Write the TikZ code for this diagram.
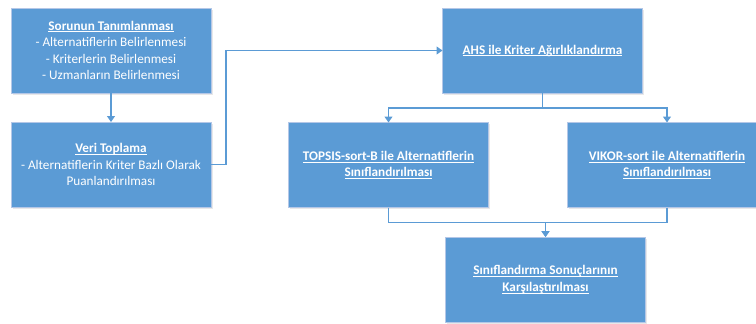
\documentclass[tikz,border=0pt]{standalone}
\usepackage{fontspec}
\setmainfont{Carlito}
\usetikzlibrary{arrows.meta,shadows}
\definecolor{boxblue}{HTML}{5B9BD5}
\definecolor{boxedge}{HTML}{B4C7E7}
\definecolor{linkblue}{HTML}{5B9BD5}
\newcommand{\myul}[1]{\setbox0\hbox{#1}\leavevmode\rlap{\vrule width\wd0 height -1.3pt depth 2.0pt}\box0}
\begin{document}
\begin{tikzpicture}[x=1pt,y=-1pt,
 box/.style={draw=boxedge, line width=0.8pt, fill=boxblue, minimum width=200pt, minimum height=85pt,
   inner sep=0pt, outer sep=0pt, text=white, align=center, font=\fontsize{13.2}{16.6}\selectfont,
   drop shadow={opacity=0.18, shadow xshift=1.5pt, shadow yshift=-1.5pt}},
 link/.style={draw=linkblue, line width=1.2pt, -{Triangle[width=8pt,length=6pt]}}]
\useasboundingbox (0,0) rectangle (756,324);
\node[box] (s1) at (111,50.5) {\myul{\textbf{Sorunun Tanımlanması}}\\- Alternatiflerin Belirlenmesi\\- Kriterlerin Belirlenmesi\\- Uzmanların Belirlenmesi};
\node[box] (s2) at (111,164.5) {\myul{\textbf{Veri Toplama}}\\- Alternatiflerin Kriter Bazlı Olarak\\Puanlandırılması};
\node[box] (ahs) at (542.5,50.5) {\myul{\textbf{AHS ile Kriter Ağırlıklandırma}}};
\node[box] (top) at (388.5,165) {\myul{\textbf{TOPSIS-sort-B ile Alternatiflerin}}\\\myul{\textbf{Sınıflandırılması}}};
\node[box] (vik) at (667,165) {\myul{\textbf{VIKOR-sort ile Alternatiflerin}}\\\myul{\textbf{Sınıflandırılması}}};
\node[box] (res) at (545.5,279.5) {\myul{\textbf{Sınıflandırma Sonuçlarının}}\\\myul{\textbf{Karşılaştırılması}}};
\draw[link] (s1) -- (s2);
\draw[link] (s2.east) -- ++(15,0) |- (ahs.west);
\draw[link] (ahs.south) -- ++(0,15) -| (top.north);
\draw[link] (ahs.south) -- ++(0,15) -| (vik.north);
\draw[link] (top.south) -- ++(0,15) -| (res.north);
\draw[link] (vik.south) -- ++(0,15) -| (res.north);
\end{tikzpicture}
\end{document}
